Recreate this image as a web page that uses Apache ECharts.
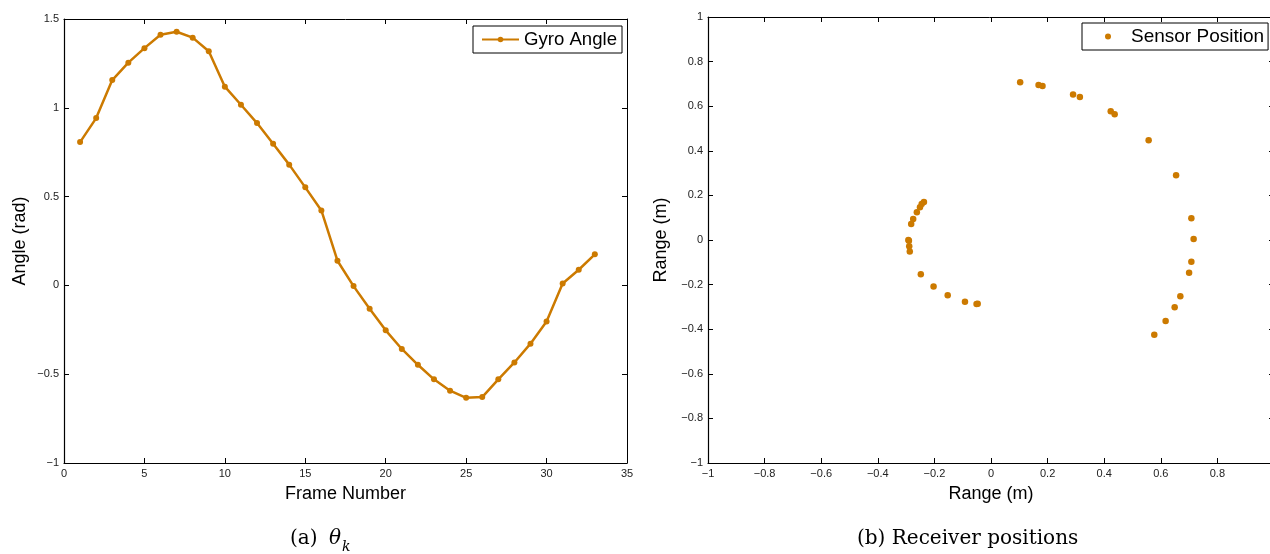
<!DOCTYPE html>
<html>
<head>
<meta charset="utf-8">
<script src="https://cdn.jsdelivr.net/npm/echarts@6/dist/echarts.min.js"></script>
<style>
  html, body { margin: 0; padding: 0; background: #fff; }
  #chart { width: 1270px; height: 554px; }
</style>
</head>
<body>
<div id="chart"></div>
<script>
// Gyro angle (rad) for each frame
const frameNumbers = [1, 2, 3, 4, 5, 6, 7, 8, 9, 10, 11, 12, 13, 14, 15, 16, 17,
  18, 19, 20, 21, 22, 23, 24, 25, 26, 27, 28, 29, 30, 31, 32, 33];
const gyroAngle = [0.807, 0.942, 1.156, 1.254, 1.336, 1.411, 1.428, 1.395, 1.318,
  1.119, 1.017, 0.914, 0.798, 0.680, 0.552, 0.422, 0.139, -0.004, -0.131, -0.253,
  -0.358, -0.447, -0.529, -0.593, -0.633, -0.629, -0.529, -0.434, -0.328, -0.203,
  0.011, 0.088, 0.175];

// Receiver (sensor) positions in metres
const sensorX = [0.716, 0.708, 0.654, 0.557, 0.437, 0.423, 0.314, 0.290, 0.182,
  0.168, 0.103, -0.237, -0.245, -0.251, -0.262, -0.275, -0.282, -0.292, -0.290,
  -0.289, -0.287, -0.248, -0.203, -0.153, -0.092, -0.051, -0.047, 0.577, 0.617,
  0.649, 0.669, 0.700, 0.708];
const sensorY = [0.004, 0.097, 0.290, 0.447, 0.564, 0.577, 0.641, 0.653, 0.691,
  0.695, 0.707, 0.170, 0.161, 0.147, 0.124, 0.094, 0.072, 0.000, -0.003, -0.028,
  -0.052, -0.154, -0.209, -0.248, -0.277, -0.287, -0.286, -0.425, -0.363, -0.302,
  -0.252, -0.147, -0.097];

// Axis ranges and tick steps
const frameTicks = { min: 0, max: 35, interval: 5 };
const angleTicks = { min: -1, max: 1.5, interval: 0.5 };
const rangeTicks = { min: -1, max: 1, interval: 0.2 };

const COLOR = '#CC7A00';
const SANS = '"Liberation Sans", Arial, Helvetica, sans-serif';
const SERIF = '"DejaVu Serif", "Liberation Serif", serif';

const fmt = v => String(Math.round(v * 1000) / 1000).replace('-', '\u2212');

function mainAxis(gridIndex, ticks, position, name, nameGap) {
  return {
    type: 'value', gridIndex, position,
    min: ticks.min, max: ticks.max, interval: ticks.interval,
    name, nameLocation: 'middle', nameGap,
    nameTextStyle: { fontFamily: SANS, fontSize: 18, color: '#000' },
    axisLine: { show: true, onZero: false, lineStyle: { color: '#000', width: 1.2 } },
    axisTick: { show: true, inside: true, length: 5, lineStyle: { color: '#000', width: 1 } },
    axisLabel: {
      show: true, margin: 5, fontFamily: SANS, fontSize: 11, color: '#222',
      showMinLabel: true, showMaxLabel: true, formatter: fmt, hideOverlap: false
    },
    splitLine: { show: false }
  };
}

function mirrorAxis(gridIndex, ticks, position) {
  return {
    type: 'value', gridIndex, position,
    min: ticks.min, max: ticks.max, interval: ticks.interval,
    axisLine: { show: true, onZero: false, lineStyle: { color: '#000', width: 1 } },
    axisTick: { show: true, inside: true, length: 5, lineStyle: { color: '#000', width: 1 } },
    axisLabel: { show: false },
    splitLine: { show: false }
  };
}

const gyroData = frameNumbers.map((f, i) => [f, gyroAngle[i]]);
const sensorData = sensorX.map((x, i) => [x, sensorY[i]]);

const chart = echarts.init(document.getElementById('chart'), null, { renderer: 'canvas' });

chart.setOption({
  backgroundColor: '#fff',
  animation: false,
  grid: [
    { left: 64, top: 19, width: 563, height: 444, outerBoundsMode: 'none', containLabel: false },
    { left: 708, top: 17, width: 566, height: 446, outerBoundsMode: 'none', containLabel: false }
  ],
  xAxis: [
    mainAxis(0, frameTicks, 'bottom', 'Frame Number', 22),
    mirrorAxis(0, frameTicks, 'top'),
    mainAxis(1, rangeTicks, 'bottom', 'Range (m)', 22),
    mirrorAxis(1, rangeTicks, 'top')
  ],
  yAxis: [
    mainAxis(0, angleTicks, 'left', 'Angle (rad)', 35),
    mirrorAxis(0, angleTicks, 'right'),
    mainAxis(1, rangeTicks, 'left', 'Range (m)', 38),
    mirrorAxis(1, rangeTicks, 'right')
  ],
  legend: [
    {
      data: ['Gyro Angle'], left: 473, top: 26,
      orient: 'vertical',
      padding: [4, 5, 4, 8], itemWidth: 37, itemHeight: 7,
      borderColor: '#000', borderWidth: 1, backgroundColor: '#fff',
      textStyle: { fontFamily: SANS, fontSize: 18.6, color: '#000' }
    },
    {
      data: ['Sensor Position'], left: 1082, top: 23,
      orient: 'vertical',
      padding: [4, 4, 4, 23], itemWidth: 6, itemHeight: 6,
      borderColor: '#000', borderWidth: 1, backgroundColor: '#fff',
      textStyle: { fontFamily: SANS, fontSize: 19, color: '#000', padding: [0, 0, 0, 15] }
    }
  ],
  series: [
    {
      name: 'Gyro Angle', type: 'line', xAxisIndex: 0, yAxisIndex: 0,
      data: gyroData, symbol: 'circle', symbolSize: 6, showSymbol: true,
      lineStyle: { color: COLOR, width: 2.5 },
      itemStyle: { color: COLOR, opacity: 1 },
      emphasis: { disabled: true }
    },
    {
      name: 'Sensor Position', type: 'scatter', xAxisIndex: 2, yAxisIndex: 2,
      data: sensorData, symbol: 'circle', symbolSize: 6.5,
      itemStyle: { color: COLOR, opacity: 1 },
      emphasis: { disabled: true }
    }
  ],
  graphic: [
    {
      type: 'text', left: 290, top: 529,
      style: { text: '(a)', font: '20px ' + SERIF, fill: '#000' }
    },
    {
      type: 'text', left: 329, top: 529,
      style: { text: '\u03b8', font: 'italic 20px ' + SERIF, fill: '#000' }
    },
    {
      type: 'text', left: 342, top: 540,
      style: { text: 'k', font: 'italic 14px ' + SERIF, fill: '#000' }
    },
    {
      type: 'text', left: 857, top: 529,
      style: { text: '(b) Receiver positions', font: '20px ' + SERIF, fill: '#000' }
    }
  ]
});
</script>
</body>
</html>
